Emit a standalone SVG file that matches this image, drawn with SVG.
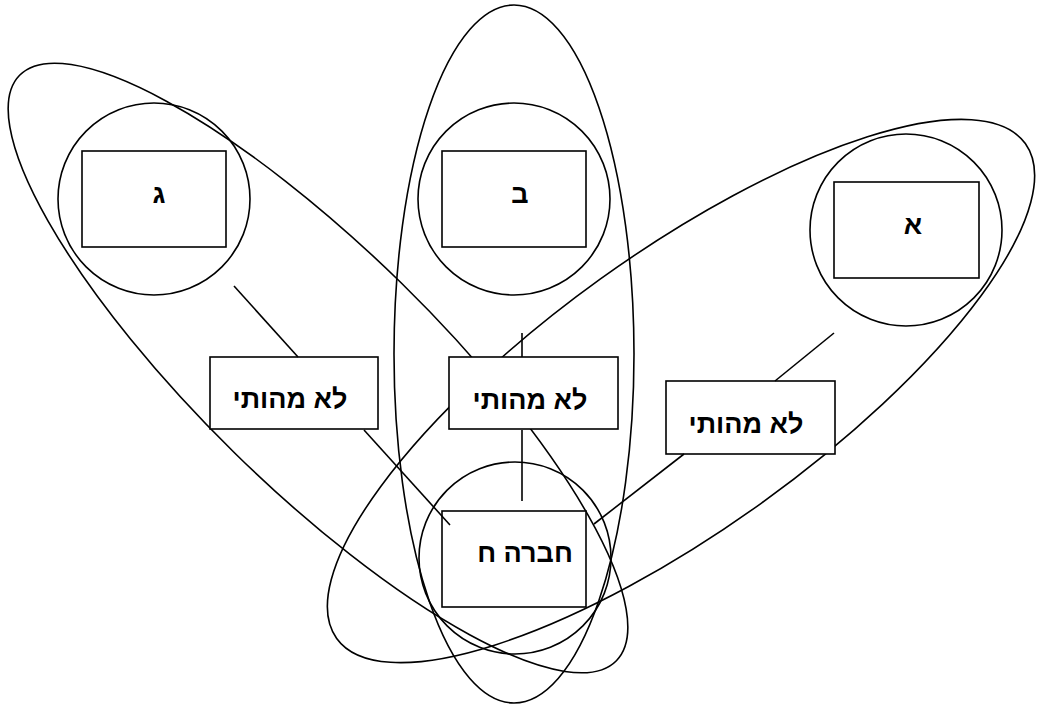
<svg xmlns="http://www.w3.org/2000/svg" width="1037" height="706" viewBox="0 0 1037 706">
<style>
.shape{fill:none;stroke:#000;stroke-width:1.6}
.box{fill:#fff;stroke:#000;stroke-width:1.6}
.conn{stroke:#000;stroke-width:1.6;fill:none}
.lbl{font-family:"Liberation Sans","DejaVu Sans",sans-serif;font-weight:bold;font-size:27px;fill:#000;text-anchor:middle}
</style>
<rect width="1037" height="706" fill="#fff"/>
<g id="groups">
<ellipse id="group-g" class="shape" cx="318" cy="368" rx="418" ry="119" transform="rotate(44.45 318 368)"/>
<ellipse id="group-b" class="shape" cx="514" cy="354" rx="120" ry="349"/>
<ellipse id="group-a" class="shape" cx="681" cy="391" rx="424" ry="138" transform="rotate(-35.7 681 391)"/>
</g>
<g id="node-g">
<circle class="shape" cx="154" cy="199" r="96"/>
<rect class="box" x="82" y="151" width="144" height="96"/>
<text class="lbl" x="159" y="203">ג</text>
</g>
<g id="node-b">
<circle class="shape" cx="514" cy="199" r="96"/>
<rect class="box" x="442" y="151" width="144" height="96"/>
<text class="lbl" x="520" y="203">ב</text>
</g>
<g id="node-a">
<circle class="shape" cx="906" cy="230" r="96"/>
<rect class="box" x="834" y="182" width="145" height="96"/>
<text class="lbl" x="913" y="234">א</text>
</g>
<g id="node-h">
<circle class="shape" cx="515" cy="558" r="96"/>
<rect class="box" x="442" y="511" width="144" height="96"/>
<text class="lbl" x="525" y="562">חברה ח</text>
</g>
<g id="label-left">
<rect class="box" x="210" y="357" width="168" height="72"/>
<text class="lbl" x="290" y="408">לא מהותי</text>
</g>
<g id="label-mid">
<rect class="box" x="449" y="357" width="169" height="72"/>
<text class="lbl" x="530" y="409">לא מהותי</text>
</g>
<g id="label-right">
<rect class="box" x="666" y="381" width="169" height="73"/>
<text class="lbl" x="746" y="433">לא מהותי</text>
</g>
<g id="connectors">
<line class="conn" x1="234" y1="286" x2="298" y2="357"/>
<line class="conn" x1="364" y1="430" x2="450" y2="525"/>
<line class="conn" x1="522" y1="333" x2="522" y2="357"/>
<line class="conn" x1="522" y1="430" x2="522" y2="501"/>
<line class="conn" x1="834" y1="333" x2="775" y2="381"/>
<line class="conn" x1="684" y1="454" x2="594" y2="524"/>
</g>
</svg>
